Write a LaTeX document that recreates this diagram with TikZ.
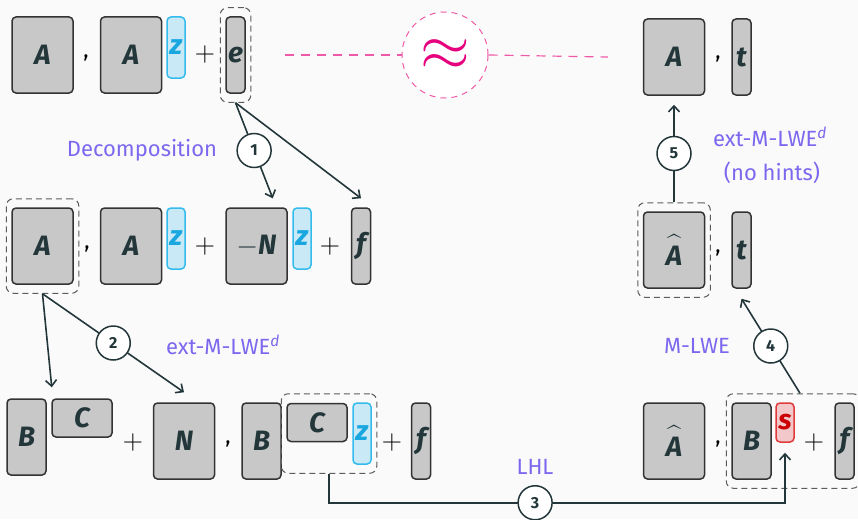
\RequirePackage{fix-cm}
\documentclass[tikz,border=0pt]{standalone}
\usepackage{exscale}
\usepackage{fontspec}
\setmainfont{Fira Sans}
\usetikzlibrary{arrows.meta,fit}
\definecolor{bg}{HTML}{FAFAFA}
\definecolor{dark}{HTML}{23373B}
\definecolor{boxfill}{HTML}{C8C8C8}
\definecolor{boxline}{HTML}{333333}
\definecolor{zfill}{HTML}{C9E9F6}
\definecolor{zline}{HTML}{33BBEE}
\definecolor{ztext}{HTML}{1AA7E0}
\definecolor{sfill}{HTML}{F2C8CA}
\definecolor{sline}{HTML}{E03A3A}
\definecolor{stext}{HTML}{CC0000}
\definecolor{lbl}{HTML}{7B68EE}
\definecolor{pinkline}{HTML}{EE5AA8}
\definecolor{approxc}{HTML}{E6007E}
% A with a wide hat; the strut lifts the hat clear of the letter
\newcommand{\hatA}{{\fontsize{32}{36}\selectfont$\widehat{\mbox{\fontsize{28}{32}\selectfont\bfseries\itshape A}\rule{0pt}{24.5pt}}$}}
\begin{document}
\begin{tikzpicture}[
                        x=1pt, y=-1pt,
                        >={Straight Barb[length=6pt,width=11pt]},
                        font=\fontsize{22}{26}\selectfont,
                        box/.style={draw=boxline, fill=boxfill, line width=1.5pt, rounded corners=4pt,
                                    inner sep=0pt, text=dark, font=\fontsize{28}{32}\selectfont\bfseries\itshape},
                        mat/.style={box, minimum width=61pt, minimum height=76pt},
                        vec/.style={box, minimum width=19pt, minimum height=76pt},
                        bmat/.style={box, minimum width=39pt, minimum height=76pt},
                        cmat/.style={box, minimum width=60pt, minimum height=38pt},
                        zvec/.style={box, draw=zline, fill=zfill, text=ztext, minimum width=18pt, minimum height=61pt},
                        svec/.style={box, draw=sline, fill=sfill, text=stext, minimum width=18pt, minimum height=39pt},
                        grp/.style={draw=boxline!80, dash pattern=on 6pt off 4pt, line width=1pt, rounded corners=7pt,
                                    inner xsep=5pt, inner ysep=8.5pt},
                        num/.style={circle, draw=dark, fill=white, line width=1.5pt, minimum size=34pt, inner sep=0pt,
                                    text=dark, font=\fontsize{16}{18}\selectfont\bfseries},
                        lbl/.style={text=lbl},
                        op/.style={font=\fontsize{28}{32}\selectfont},
                        conn/.style={draw=dark, line width=1.6pt},
                        sep/.style={anchor=base}
                    ]
                    \fill[bg] (0,0) rectangle (858,519);
                    \useasboundingbox (0,0) rectangle (858,519);

                    % Row 1
                    \node [mat] (A1) at (42.5,55) {A};
                    \node [sep] (c1) at (86,57) {,};
                    \node [mat] (A2) at (131,55) {A};
                    \node [zvec] (z1) at (176,47.5) {z};
                    \node [op] (p1) at (205,55) {$+$};
                    \node [vec] (e1) at (235.5,55) {e};
                    \node [grp, fit=(e1)] (ge) {};

                    \node [circle, draw=pinkline, dash pattern=on 6pt off 5pt, line width=1pt, fill=white,
                           minimum size=86pt, inner sep=0pt, text=approxc,
                           font=\fontsize{64}{68}\selectfont] (approx) at (445,55) {$\approx$};

                    \node [mat] (A3) at (674,57) {A};
                    \node [sep] (c2) at (718,59) {,};
                    \node [vec] (t1) at (741.5,57) {t};

                    % Row 2
                    \node [mat] (A4) at (42.5,246) {A};
                    \node [grp, fit=(A4)] (gA) {};
                    \node [sep] (c3) at (87,248) {,};
                    \node [mat] (A5) at (131,246) {A};
                    \node [zvec] (z2) at (176,238.5) {z};
                    \node [op] (p2) at (205,246) {$+$};
                    \node [mat] (N1) at (256.5,246) {\mdseries\upshape$-$\bfseries\itshape N};
                    \node [zvec] (z3) at (302,238.5) {z};
                    \node [op] (p3) at (330,246) {$+$};
                    \node [vec] (f1) at (361,246) {f};

                    \node [mat] (H1) at (674,250) {\hatA};
                    \node [grp, fit=(H1)] (gH) {};
                    \node [sep] (c4) at (718,252) {,};
                    \node [vec] (t2) at (741.5,250) {t};

                    % Row 3
                    \node [bmat] (B1) at (26.5,437) {B};
                    \node [cmat] (C1) at (82,418) {C};
                    \node [op] (p4) at (133,442) {$+$};
                    \node [mat] (N2) at (184,441) {N};
                    \node [sep] (c5) at (228,443) {,};
                    \node [bmat] (B2) at (261.5,441) {B};
                    \node [cmat] (C2) at (317,422.5) {C};
                    \node [zvec] (z4) at (362,433.5) {z};
                    \node [grp, fit=(C2)(z4)] (gCz) {};
                    \node [op] (p5) at (392,442) {$+$};
                    \node [vec] (f2) at (421,441) {f};

                    \node [mat] (H2) at (674,441) {\hatA};
                    \node [sep] (c6) at (718,443) {,};
                    \node [bmat] (B3) at (751.5,441) {B};
                    \node [svec] (s1) at (785,422.5) {s};
                    \node [op] (p6) at (814,442) {$+$};
                    \node [vec] (f3) at (844.5,441) {f};
                    \node [grp, fit=(B3)(s1)(f3)] (gR) {};

                    % Labels
                    \node [lbl] (decomp) at (142,150) {Decomposition};
                    \node [lbl] (ext1) at (223,345) {ext-M-LWE\textsuperscript{\itshape d}};
                    \node [lbl] (lhl) at (535,467) {LHL};
                    \node [lbl] (mlwe) at (697,346) {M-LWE};
                    \node [lbl] (ext2) at (770,137) {ext-M-LWE\textsuperscript{\itshape d}};
                    \node [lbl] (nohints) at (772,173) {(no hints)};

                    % Connections
                    \draw [pinkline, line width=1.2pt, dash pattern=on 9pt off 7pt]
                        ([xshift=34pt]ge.east) -- (approx.west);
                    \draw [pinkline, line width=1.2pt, dash pattern=on 9pt off 7pt]
                        (approx.east) -- ([xshift=-35pt]A3.west);

                    \draw [conn,->] (ge.south) -- node[num]{1} ([xshift=-15pt,yshift=9pt]N1.north east);
                    \draw [conn,->] (ge.south) -- ([yshift=9pt]f1.north);

                    \draw [conn,->] (gA.south) -- ([xshift=5pt,yshift=11pt]B1.north east);
                    \draw [conn,->] (gA.south) -- node[num]{2} ([yshift=10pt]N2.north);

                    \draw [conn,->] (gCz.south) -- ([yshift=-29pt]gCz.south)
                        -| node[num,pos=0.226]{3} ([yshift=-10pt]s1.south);

                    \draw [conn,->] ([xshift=7pt]gR.north) -- node[num]{4} ([yshift=-10pt]t2.south);

                    \draw [conn,->] (gH.north) -- node[num]{5} ([yshift=-9pt]A3.south);
                \end{tikzpicture}
\end{document}
